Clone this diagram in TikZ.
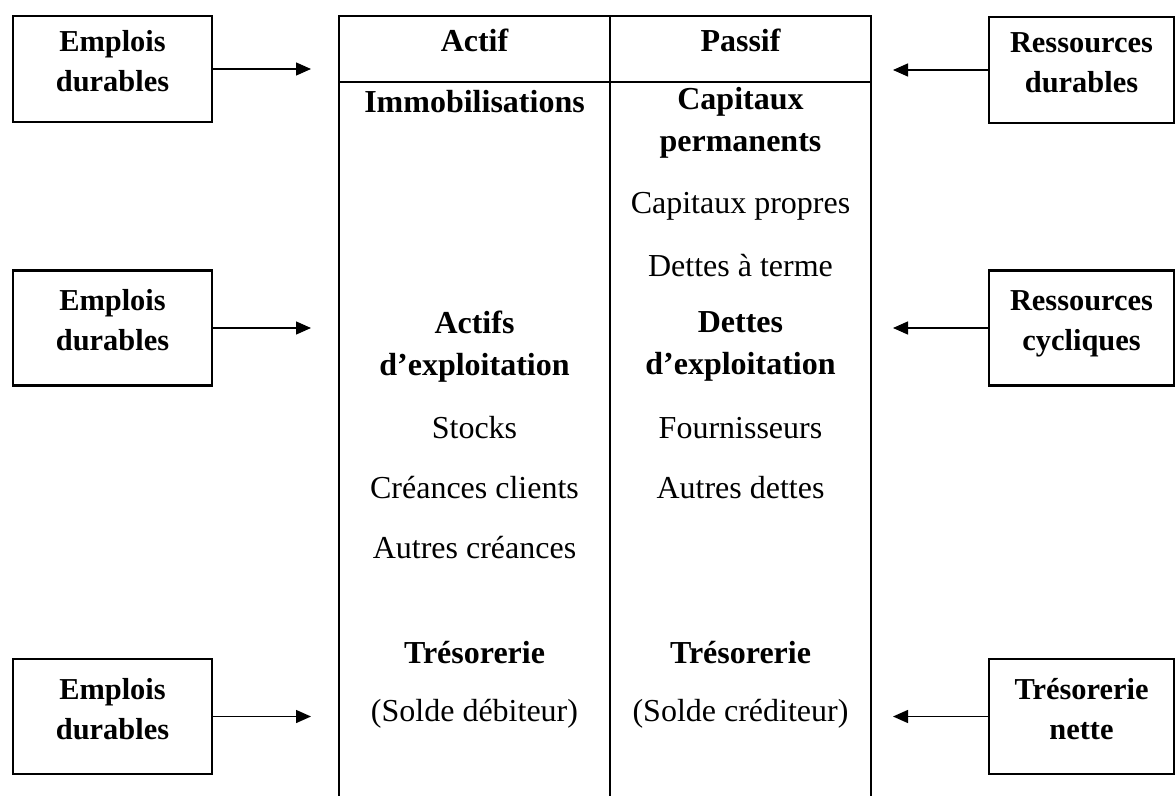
\documentclass[tikz,border=0pt]{standalone}
\usepackage{fontspec}
\setmainfont{Liberation Serif}
\usetikzlibrary{arrows.meta}

\tikzset{
	txt/.style={align=center, inner sep=0pt, font=\fontsize{16pt}{21pt}\selectfont},
	bold/.style={txt, font=\fontsize{16pt}{21pt}\selectfont\bfseries},
	sidebox/.style={align=center, inner sep=0pt, draw, line width=1.2pt,
		font=\fontsize{15.2pt}{20pt}\selectfont\bfseries,
		text height=30.5pt, text depth=8pt, minimum height=53pt},
	tall/.style={minimum height=57.5pt},
	frame/.style={line width=1.2pt},
	flow/.style={-{Triangle[length=7.5pt,width=6.5pt]}, line width=0.7pt}
}

\begin{document}
\begin{tikzpicture}[x=0.5pt, y=-0.5pt]
			\useasboundingbox (0,0) rectangle (1176,796);

			% bilan
			\draw[frame] (339,796) -- (339,16) -- (871,16) -- (871,796);
			\draw[frame] (610,16) -- (610,796);
			\draw[frame] (339,82) -- (871,82);

			\node[bold] (actif) at (474.5,40) {Actif};
			\node[bold] (passif) at (740.5,40) {Passif};

			\node[bold] (immo) at (474.5,102) {Immobilisations};
			\node[bold] (capperm) at (740.5,123) {Capitaux\\permanents};
			\node[txt] (cappro) at (740.5,206) {Capitaux propres};
			\node[txt] (dterme) at (740.5,266) {Dettes à terme};

			\node[bold] (actexp) at (474.5,346.5) {Actifs\\d’exploitation};
			\node[bold] (detexp) at (740.5,346.5) {Dettes\\d’exploitation};
			\node[txt] (stocks) at (474.5,428) {Stocks};
			\node[txt] (fourn) at (740.5,428) {Fournisseurs};
			\node[txt] (crecli) at (474.5,488) {Créances clients};
			\node[txt] (autdet) at (740.5,488) {Autres dettes};
			\node[txt] (autcre) at (474.5,548) {Autres créances};

			\node[bold] (tresa) at (474.5,653) {Trésorerie};
			\node[bold] (tresp) at (740.5,653) {Trésorerie};
			\node[txt] (sdeb) at (474.5,714) {(Solde débiteur)};
			\node[txt] (scred) at (740.5,714) {(Solde créditeur)};

			% cadres lateraux
			\node[sidebox, minimum width=99.5pt] (emp1) at (112.5,69) {Emplois\\durables};
			\node[sidebox, tall, minimum width=99.5pt] (emp2) at (112.5,328) {Emplois\\durables};
			\node[sidebox, tall, minimum width=99.5pt] (emp3) at (112.5,716.5) {Emplois\\durables};
			\node[sidebox, minimum width=92.5pt] (resdur) at (1081.5,70) {Ressources\\durables};
			\node[sidebox, tall, minimum width=92.5pt] (rescyc) at (1081.5,328) {Ressources\\cycliques};
			\node[sidebox, tall, minimum width=92.5pt] (tresn) at (1081.5,716.5) {Trésorerie\\nette};

			\coordinate (a1) at (311,69);
			\coordinate (a2) at (311,328);
			\coordinate (a3) at (311,716.5);
			\coordinate (p1) at (893,70);
			\coordinate (p2) at (893,328);
			\coordinate (p3) at (893,716.5);

			\draw
			(emp1) edge[flow] (a1)
			(emp2) edge[flow] (a2)
			(emp3) edge[flow] (a3)
			(resdur) edge[flow] (p1)
			(rescyc) edge[flow] (p2)
			(tresn) edge[flow] (p3);
		\end{tikzpicture}
\end{document}
